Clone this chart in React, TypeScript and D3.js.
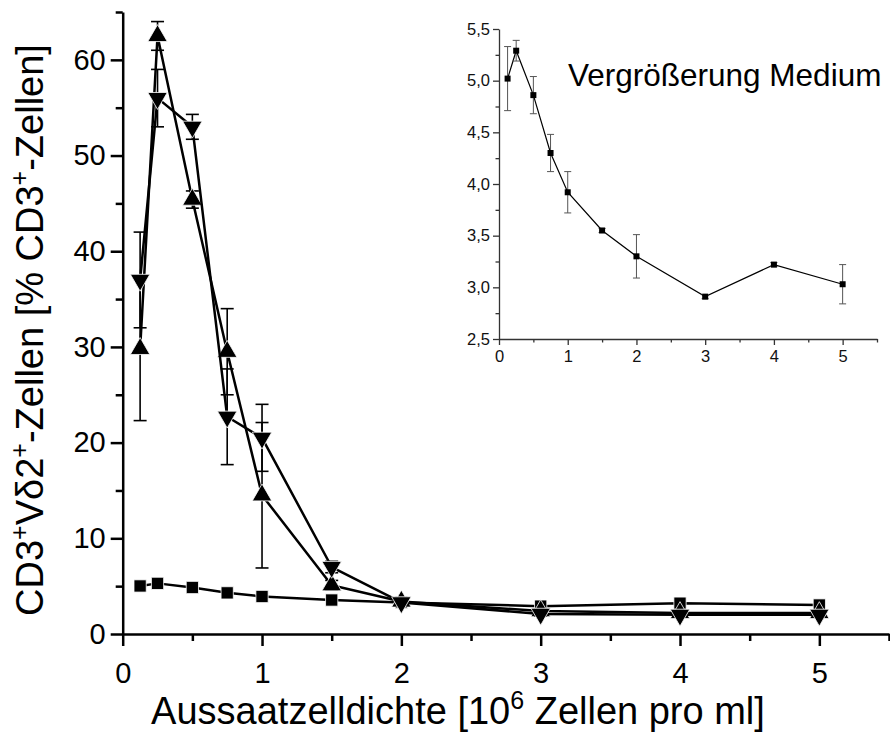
import * as React from 'react';
import * as d3 from 'd3';

// Aussaatzelldichte [10^6 Zellen pro ml]
const density = [0.125, 0.25, 0.5, 0.75, 1, 1.5, 2, 3, 4, 5];

// CD3+Vd2+ cells [% of CD3+], three conditions
const upValues = [29.8, 62.5, 45.4, 29.5, 14.5, 5.1, 3.4, 2.4, 2.2, 2.2];
const upErrors = [7.5, 1.5, 0.9, 4.5, 7.6, 0.5, 0.3, 0.2, 0.2, 0.2];
const downValues = [37.0, 56.0, 53.0, 22.7, 20.5, 7.0, 3.3, 2.1, 2.0, 2.0];
const downErrors = [5.0, 3.0, 1.3, 5.0, 3.5, 0.6, 0.3, 0.2, 0.2, 0.2];
const mediumValues = [5.02, 5.29, 4.86, 4.30, 3.92, 3.55, 3.30, 2.91, 3.22, 3.03];
const mediumErrors = [0.31, 0.1, 0.18, 0.18, 0.2, 0.02, 0.21, 0.02, 0.02, 0.19];

// ticks
const mainXTicks = [0, 1, 2, 3, 4, 5];
const mainXMinor = [0.5, 1.5, 2.5, 3.5, 4.5, 5.5];
const mainYTicks = [0, 10, 20, 30, 40, 50, 60];
const mainYMinor = [5, 15, 25, 35, 45, 55, 65];
const insetXTicks = [0, 1, 2, 3, 4, 5];
const insetXMinor = [0.5, 1.5, 2.5, 3.5, 4.5, 5.5];
const insetYTicks = [2.5, 3.0, 3.5, 4.0, 4.5, 5.0, 5.5];
const insetYLabels = ['2,5', '3,0', '3,5', '4,0', '4,5', '5,0', '5,5'];
const insetYMinor = [2.75, 3.25, 3.75, 4.25, 4.75, 5.25];

const W = 890;
const H = 735;
const FONT = "'Liberation Sans', Arial, Helvetica, sans-serif";

export default class App extends React.PureComponent {

    svg: SVGSVGElement | null = null;

    componentDidMount() {
        this._draw();
    }

    _draw() {
        let svg = d3.select(this.svg)
            .attr('width', W)
            .attr('height', H);
        svg.selectAll('*').remove();

        // ---------- main chart ----------
        let x = d3.scaleLinear().domain([0, 5.5]).range([122.7, 889]);
        let y = d3.scaleLinear().domain([0, 65]).range([634, 12]);

        let styleAxis = (g: any, width: number, size: number) => {
            g.attr('font-family', FONT).attr('font-size', size);
            g.selectAll('path').attr('stroke', '#000').attr('stroke-width', width);
            g.selectAll('line').attr('stroke', '#000').attr('stroke-width', width);
            g.selectAll('text').attr('fill', '#000');
        };

        let gxMinor = svg.append('g').attr('transform', 'translate(0,' + y(0) + ')')
            .call(d3.axisBottom(x).tickValues(mainXMinor).tickSize(7).tickSizeOuter(0).tickFormat(() => ''));
        gxMinor.select('.domain').remove();
        styleAxis(gxMinor, 2.5, 28);

        let gyMinor = svg.append('g').attr('transform', 'translate(' + x(0) + ',0)')
            .call(d3.axisLeft(y).tickValues(mainYMinor).tickSize(7).tickSizeOuter(0).tickFormat(() => ''));
        gyMinor.select('.domain').remove();
        styleAxis(gyMinor, 2.5, 28);

        let gx = svg.append('g').attr('transform', 'translate(0,' + y(0) + ')')
            .call(d3.axisBottom(x).tickValues(mainXTicks).tickSize(12).tickSizeOuter(0).tickPadding(16).tickFormat(d3.format('d')));
        styleAxis(gx, 2.5, 29);

        let gy = svg.append('g').attr('transform', 'translate(' + x(0) + ',0)')
            .call(d3.axisLeft(y).tickValues(mainYTicks).tickSize(12).tickSizeOuter(0).tickPadding(5).tickFormat(d3.format('d')));
        styleAxis(gy, 2.5, 29);

        // axis titles
        let xTitle = svg.append('text')
            .attr('x', 458)
            .attr('y', 724)
            .attr('text-anchor', 'middle')
            .attr('font-family', FONT)
            .attr('font-size', 38)
            .attr('fill', '#000');
        xTitle.append('tspan').text('Aussaatzelldichte [10');
        xTitle.append('tspan').attr('font-size', 25).attr('dy', -15).text('6');
        xTitle.append('tspan').attr('dy', 15).text(' Zellen pro ml]');

        let yTitle = svg.append('text')
            .attr('transform', 'translate(43,330) rotate(-90)')
            .attr('text-anchor', 'middle')
            .attr('font-family', FONT)
            .attr('font-size', 38)
            .attr('fill', '#000');
        let sup = (t: string) => {
            yTitle.append('tspan').attr('font-size', 25).attr('dy', -15).text(t);
        };
        let base = (t: string) => {
            yTitle.append('tspan').attr('dy', 15).text(t);
        };
        yTitle.append('tspan').text('CD3');
        sup('+');
        base('V\u03b42');
        sup('+');
        base('-Zellen [% CD3');
        sup('+');
        base('-Zellen]');

        // series
        let line = d3.line<number>()
            .x((d, i) => x(density[i]))
            .y((d) => y(d));

        let drawSeries = (values: number[], errors: number[], symbol: any, size: number, rotate: number, capW: number) => {
            let g = svg.append('g');
            g.append('path')
                .datum(values)
                .attr('d', line)
                .attr('fill', 'none')
                .attr('stroke', '#000')
                .attr('stroke-width', 2.5)
                .attr('stroke-linejoin', 'round');

            let eb = g.selectAll('.eb')
                .data(values)
                .enter()
                .append('g');
            eb.append('line')
                .attr('x1', (d, i) => x(density[i]))
                .attr('x2', (d, i) => x(density[i]))
                .attr('y1', (d, i) => y(d - errors[i]))
                .attr('y2', (d, i) => y(d + errors[i]))
                .attr('stroke', '#000')
                .attr('stroke-width', 1.6);
            [1, -1].forEach((s) => {
                eb.append('line')
                    .attr('x1', (d, i) => x(density[i]) - capW / 2)
                    .attr('x2', (d, i) => x(density[i]) + capW / 2)
                    .attr('y1', (d, i) => y(d + s * errors[i]))
                    .attr('y2', (d, i) => y(d + s * errors[i]))
                    .attr('stroke', '#000')
                    .attr('stroke-width', 1.6);
            });

            g.selectAll('.mk')
                .data(values)
                .enter()
                .append('path')
                .attr('d', d3.symbol().type(symbol).size(size) as any)
                .attr('transform', (d, i) => 'translate(' + x(density[i]) + ',' + y(d) + ') rotate(' + rotate + ')')
                .attr('fill', '#000')
                .attr('stroke', '#fff')
                .attr('stroke-width', 0.8);
        };

        drawSeries(mediumValues, mediumErrors, d3.symbolSquare, 150, 0, 10);
        drawSeries(upValues, upErrors, d3.symbolTriangle, 165, 0, 13);
        drawSeries(downValues, downErrors, d3.symbolTriangle, 165, 180, 13);

        // ---------- inset: Vergrößerung Medium ----------
        let ix = d3.scaleLinear().domain([0, 5.5]).range([499, 877]);
        let iy = d3.scaleLinear().domain([2.5, 5.5]).range([339, 29]);
        let insetColor = '#333';

        let styleInset = (g: any) => {
            g.attr('font-family', FONT).attr('font-size', 16.5);
            g.selectAll('path').attr('stroke', insetColor).attr('stroke-width', 1.3);
            g.selectAll('line').attr('stroke', insetColor).attr('stroke-width', 1.3);
            g.selectAll('text').attr('fill', '#111');
        };

        let ixMinor = svg.append('g').attr('transform', 'translate(0,' + iy(2.5) + ')')
            .call(d3.axisBottom(ix).tickValues(insetXMinor).tickSize(3.5).tickSizeOuter(0).tickFormat(() => ''));
        ixMinor.select('.domain').remove();
        styleInset(ixMinor);

        let iyMinor = svg.append('g').attr('transform', 'translate(' + ix(0) + ',0)')
            .call(d3.axisLeft(iy).tickValues(insetYMinor).tickSize(3.5).tickSizeOuter(0).tickFormat(() => ''));
        iyMinor.select('.domain').remove();
        styleInset(iyMinor);

        let igx = svg.append('g').attr('transform', 'translate(0,' + iy(2.5) + ')')
            .call(d3.axisBottom(ix).tickValues(insetXTicks).tickSize(6).tickSizeOuter(0).tickPadding(5).tickFormat(d3.format('d')));
        styleInset(igx);

        let igy = svg.append('g').attr('transform', 'translate(' + ix(0) + ',0)')
            .call(d3.axisLeft(iy).tickValues(insetYTicks).tickSize(6).tickSizeOuter(0).tickPadding(3)
                .tickFormat((d, i) => insetYLabels[i]));
        styleInset(igy);

        let inset = svg.append('g');
        inset.append('path')
            .datum(mediumValues)
            .attr('d', d3.line<number>().x((d, i) => ix(density[i])).y((d) => iy(d)))
            .attr('fill', 'none')
            .attr('stroke', '#000')
            .attr('stroke-width', 1.2);

        let ieb = inset.selectAll('.ieb')
            .data(mediumValues)
            .enter()
            .append('g');
        ieb.append('line')
            .attr('x1', (d, i) => ix(density[i]))
            .attr('x2', (d, i) => ix(density[i]))
            .attr('y1', (d, i) => iy(d - mediumErrors[i]))
            .attr('y2', (d, i) => iy(d + mediumErrors[i]))
            .attr('stroke', '#555')
            .attr('stroke-width', 1);
        [1, -1].forEach((s) => {
            ieb.append('line')
                .attr('x1', (d, i) => ix(density[i]) - 3.5)
                .attr('x2', (d, i) => ix(density[i]) + 3.5)
                .attr('y1', (d, i) => iy(d + s * mediumErrors[i]))
                .attr('y2', (d, i) => iy(d + s * mediumErrors[i]))
                .attr('stroke', '#555')
                .attr('stroke-width', 1);
        });

        inset.selectAll('.imk')
            .data(mediumValues)
            .enter()
            .append('rect')
            .attr('x', (d, i) => ix(density[i]) - 3)
            .attr('y', (d) => iy(d) - 3)
            .attr('width', 6)
            .attr('height', 6)
            .attr('fill', '#000');

        svg.append('text')
            .attr('x', 568)
            .attr('y', 86)
            .attr('font-family', FONT)
            .attr('font-size', 31.5)
            .attr('fill', '#000')
            .text('Vergrößerung Medium');
    }

    render() {
        return (
            <svg
                ref={(svg) => { this.svg = svg; }}
                style={{ position: 'absolute', left: 0, top: 0, background: '#fff' }}
            ></svg>
        );
    }
}
